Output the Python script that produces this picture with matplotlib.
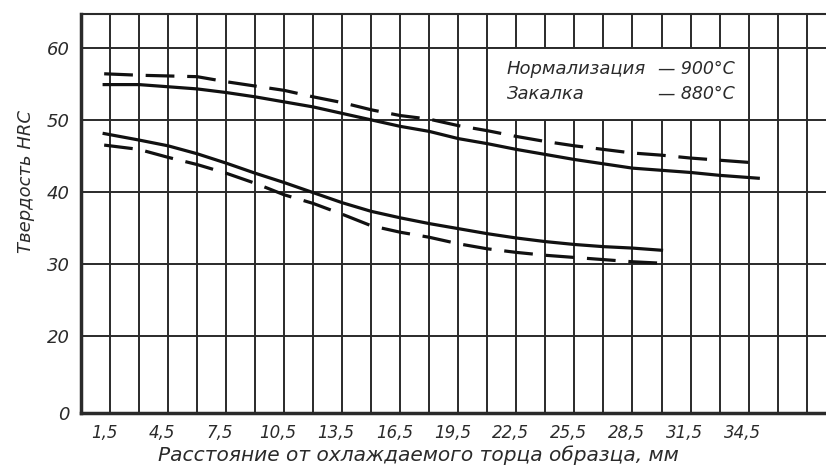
#!/usr/bin/env python3
import matplotlib
matplotlib.use("Agg")
import matplotlib.pyplot as plt
from matplotlib.patches import Rectangle
from matplotlib.transforms import ScaledTranslation
import numpy as np

# distance from quenched end, mm
x_upper = [1.2, 3.0, 4.5, 6.0, 7.5, 9.0, 10.5, 12.0, 13.5, 15.0, 16.5, 18.0,
           19.5, 21.0, 22.5, 24.0, 25.5, 27.0, 28.5, 30.0, 31.5, 33.0, 35.0]
# normalization 900 C (solid) and quench 880 C (dashed), upper pair
upper_solid = [54.9, 54.9, 54.6, 54.3, 53.8, 53.2, 52.5, 51.8, 50.9, 50.0, 49.1, 48.4,
               47.4, 46.7, 45.9, 45.2, 44.5, 43.9, 43.3, 43.0, 42.7, 42.3, 41.9]
upper_dashed = [56.4, 56.2, 56.1, 56.0, 55.3, 54.7, 54.1, 53.2, 52.4, 51.4, 50.6, 50.1,
                49.2, 48.5, 47.7, 47.0, 46.4, 45.9, 45.4, 45.1, 44.7, 44.4, 44.0]

x_lower = [1.2, 3.0, 4.5, 6.0, 7.5, 9.0, 10.5, 12.0, 13.5, 15.0, 16.5, 18.0,
           19.5, 21.0, 22.5, 24.0, 25.5, 27.0, 28.5, 30.0]
lower_solid = [48.1, 47.2, 46.4, 45.3, 44.0, 42.6, 41.3, 39.9, 38.5, 37.3, 36.4, 35.6,
               34.9, 34.2, 33.6, 33.1, 32.7, 32.4, 32.2, 31.9]
lower_dashed = [46.5, 45.9, 44.8, 43.8, 42.6, 41.2, 39.6, 38.4, 36.9, 35.3, 34.4, 33.7,
                32.8, 32.1, 31.6, 31.2, 30.9, 30.6, 30.3, 30.1]

x_ticks = [1.5, 4.5, 7.5, 10.5, 13.5, 16.5, 19.5, 22.5, 25.5, 28.5, 31.5, 34.5]
x_tick_labels = ["1,5", "4,5", "7,5", "10,5", "13,5", "16,5", "19,5", "22,5",
                 "25,5", "28,5", "31,5", "34,5"]
# bottom of the axis is drawn as "0" (broken scale below 20)
y_bottom = 9.3
y_ticks = [y_bottom, 20, 30, 40, 50, 60]
y_tick_labels = ["0", "20", "30", "40", "50", "60"]

legend_lines = ["Нормализация", "Закалка"]
legend_temps = ["— 900°C", "— 880°C"]

plt.rcParams['font.family'] = ['DejaVu Sans']
ink = '#2a2a2a'

fig = plt.figure(figsize=(8.26, 4.75), dpi=100)
ax = fig.add_axes([0.098, 0.1305, 0.902, 0.84])
ax.set_xlim(0, 38.5)
ax.set_ylim(y_bottom, 64.7)

# grid
for gx in np.arange(1.5, 42, 1.5):
    ax.axvline(gx, color=ink, lw=1.4, zorder=1)
for gy in [20, 30, 40, 50, 60]:
    ax.axhline(gy, color=ink, lw=1.4, zorder=1)

# white box for the legend text, bounded by grid cells
ax.add_patch(Rectangle((21, 50), 13.5, 10, facecolor='white', edgecolor=ink,
                       lw=1.4, zorder=1.5))
ax.text(22.0, 57.0, legend_lines[0], fontsize=13, style='italic', color=ink,
        va='center', ha='left', zorder=3)
ax.text(22.0, 53.6, legend_lines[1], fontsize=13, style='italic', color=ink,
        va='center', ha='left', zorder=3)
ax.text(33.8, 57.0, legend_temps[0], fontsize=12.5, style='italic', color=ink,
        va='center', ha='right', zorder=3)
ax.text(33.8, 53.6, legend_temps[1], fontsize=12.5, style='italic', color=ink,
        va='center', ha='right', zorder=3)

# curves
ax.plot(x_upper, upper_solid, color='#111111', lw=2.3, zorder=4)
ax.plot(x_upper, upper_dashed, color='#111111', lw=2.3, dashes=(9, 4), zorder=4)
ax.plot(x_lower, lower_solid, color='#111111', lw=2.3, zorder=4)
ax.plot(x_lower, lower_dashed, color='#111111', lw=2.3, dashes=(9, 4), zorder=4)

ax.spines['right'].set_visible(False)
ax.spines['left'].set_linewidth(2.5)
ax.spines['bottom'].set_linewidth(2.5)
ax.spines['top'].set_linewidth(1.5)
for s in ax.spines.values():
    s.set_color(ink)

ax.set_xticks(x_ticks)
ax.set_xticklabels(x_tick_labels, fontsize=12, style='italic', color=ink)
ax.set_yticks(y_ticks)
ax.set_yticklabels(y_tick_labels, fontsize=13, style='italic', color=ink)
ax.tick_params(length=0, pad=8)
shift = ScaledTranslation(-6 / 100, 0, fig.dpi_scale_trans)
for lbl in ax.get_xticklabels():
    lbl.set_transform(lbl.get_transform() + shift)

ax.set_xlabel("Расстояние от охлаждаемого торца образца, мм", fontsize=14.5,
              style='italic', color=ink)
ax.xaxis.set_label_coords((418 - 81) / (826 - 81), -0.08)
ax.set_ylabel("Твердость HRC", fontsize=13, style='italic', color=ink)
ax.yaxis.set_label_coords(-0.062, 0.58)

fig.savefig("out.png", dpi=100)
